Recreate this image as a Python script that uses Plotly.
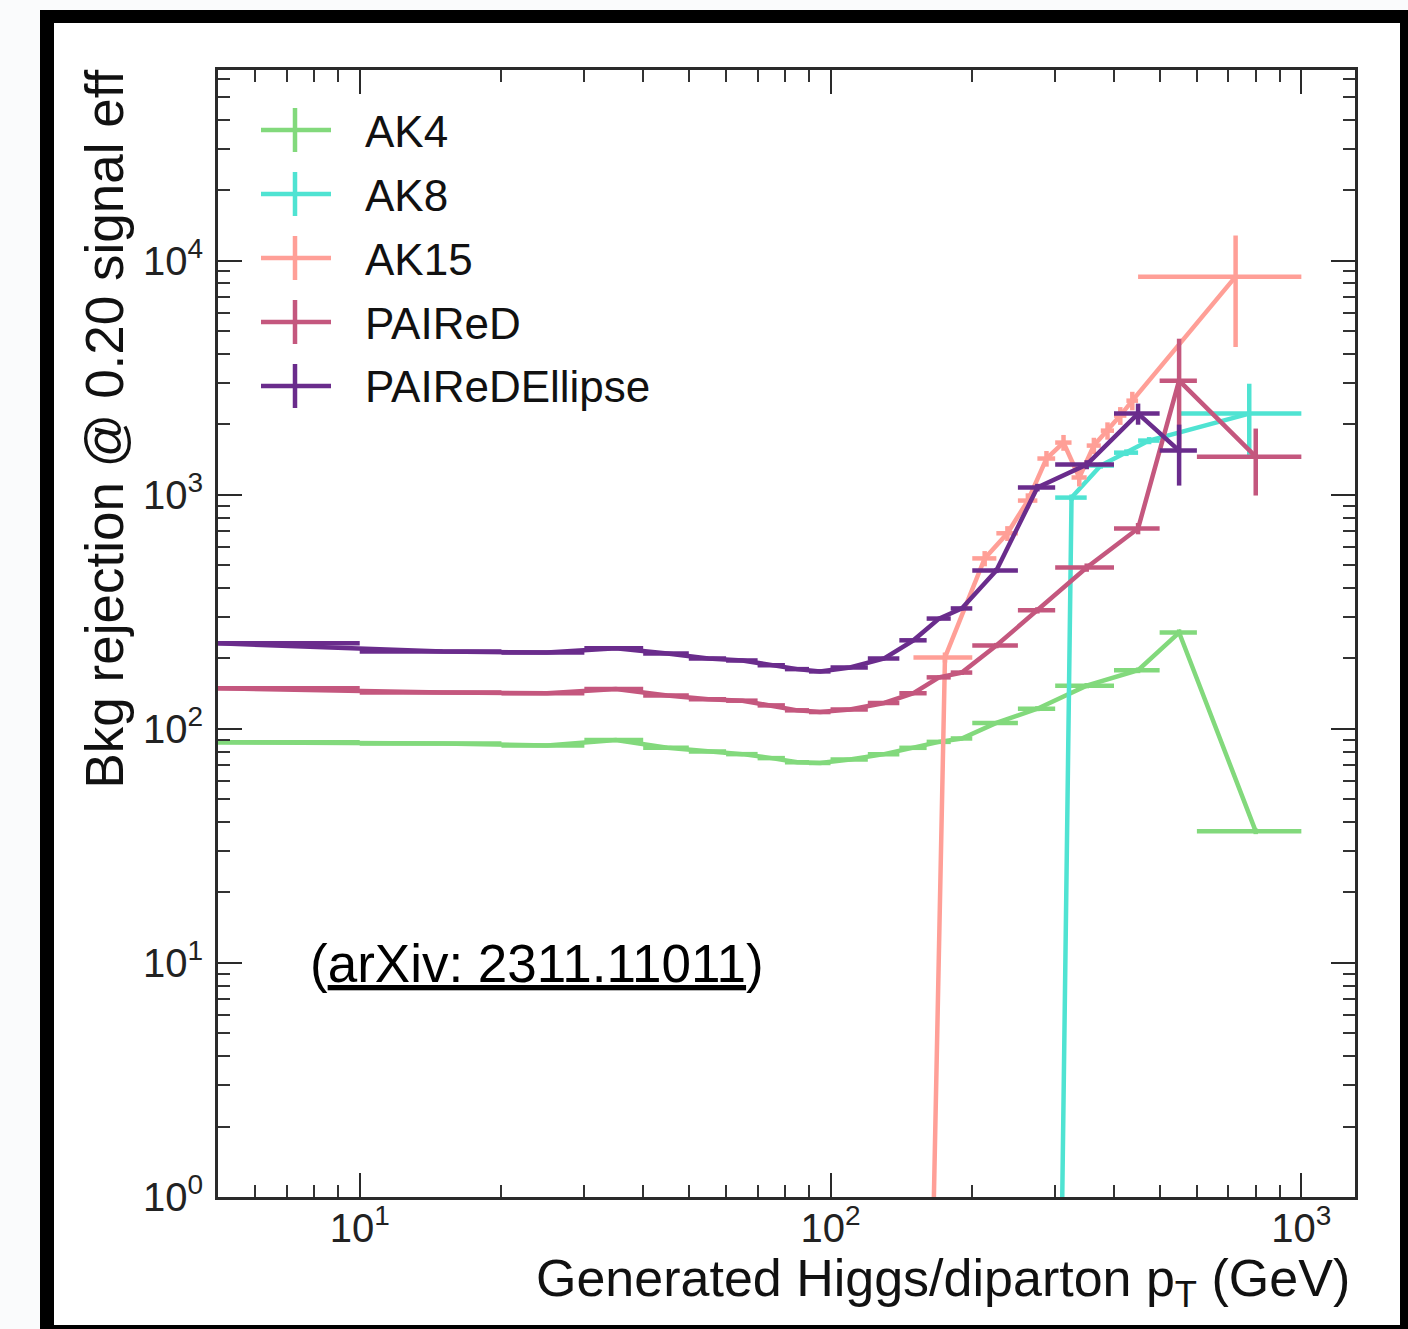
import math
import plotly.graph_objects as go

# ---------------- data ----------------
# bin edges (GeV) and values: Bkg rejection @ 0.20 signal eff
AK4_lo = [0, 10, 20, 30, 40, 50, 60, 70, 80, 90, 100, 120, 140, 160, 180, 200, 250, 300, 400, 500, 600]
AK4_hi = [10, 20, 30, 40, 50, 60, 70, 80, 90, 100, 120, 140, 160, 180, 200, 250, 300, 400, 500, 600, 1000]
AK4_y = [87.6, 86.6, 85, 89.6, 83, 80, 78, 75, 72, 71.5, 74, 78, 83, 88, 91, 106, 122, 153, 178, 258, 36.5]
AK4_err = [0, 0, 0, 0, 0, 0, 0, 0, 0, 0, 0, 0, 0, 0, 0, 2, 3, 4, 5, 8, 1]

AK8_lo = [250, 300, 350, 400, 450, 550]
AK8_hi = [300, 350, 400, 450, 500, 1000]
AK8_y = [1e-8, 973, 1334, 1514, 1705, 2223]
AK8_err = [0, 30, 40, 50, 60, 760]

AK15_lo = [100, 150, 200, 225, 250, 275, 300, 325, 350, 375, 400, 425, 450]
AK15_hi = [150, 200, 225, 250, 275, 300, 325, 350, 375, 400, 425, 450, 1000]
AK15_y = [1e-12, 202, 535, 685, 945, 1429, 1672, 1186, 1623, 1880, 2180, 2525, 8550]
AK15_err = [0, 10, 40, 50, 70, 110, 130, 100, 130, 160, 190, 230, 4270]

PAIReD_lo = [0, 10, 20, 30, 40, 50, 60, 70, 80, 90, 100, 120, 140, 160, 180, 200, 250, 300, 400, 500, 600]
PAIReD_hi = [10, 20, 30, 40, 50, 60, 70, 80, 90, 100, 120, 140, 160, 180, 200, 250, 300, 400, 500, 600, 1000]
PAIReD_y = [149, 143, 142, 148, 139, 134, 132, 126, 120, 118, 121, 129, 142, 166, 174, 227, 321, 489, 718, 3075, 1456]
PAIReD_err = [0, 0, 0, 0, 0, 0, 0, 0, 0, 0, 1, 1, 2, 3, 4, 6, 10, 20, 40, 1570, 463]

ELL_lo = [0, 10, 20, 30, 40, 50, 60, 70, 80, 90, 100, 120, 140, 160, 180, 200, 250, 300, 400, 500]
ELL_hi = [10, 20, 30, 40, 50, 60, 70, 80, 90, 100, 120, 140, 160, 180, 200, 250, 300, 400, 500, 600]
ELL_y = [232, 214, 212, 221, 210, 200, 196, 187, 180, 176, 183, 200, 239, 296, 327, 475, 1074, 1346, 2223, 1545]
ELL_err = [0, 0, 0, 0, 0, 0, 0, 0, 0, 0, 1, 2, 3, 5, 6, 12, 40, 60, 230, 450]

names = ["AK4", "AK8", "AK15", "PAIReD", "PAIReDEllipse"]
colors = ["#82d97c", "#4fe3d2", "#ff9f97", "#c4577e", "#6a2c8c"]

x_tick_vals = [10, 100, 1000]
x_tick_text = ["10<sup>1</sup>", "10<sup>2</sup>", "10<sup>3</sup>"]
y_tick_vals = [1, 10, 100, 1000, 10000]
y_tick_text = ["10<sup>0</sup>", "10<sup>1</sup>", "10<sup>2</sup>", "10<sup>3</sup>", "10<sup>4</sup>"]

x_title = "Generated Higgs/diparton p<sub>T</sub> (GeV)"
y_title = "Bkg rejection @ 0.20 signal eff"
note_text = '(<span style="text-decoration:underline">arXiv: 2311.11011</span>)'

# ---------------- layout geometry ----------------
W, H = 1408, 1329
L, R, T, B = 218, 1355, 70, 1197
FONT = "Liberation Sans, Arial, Helvetica, sans-serif"


def px(x):
    return (x - L) / (R - L)


def py(y):
    return (B - y) / (B - T)


series = [
    (AK4_lo, AK4_hi, AK4_y, AK4_err),
    (AK8_lo, AK8_hi, AK8_y, AK8_err),
    (AK15_lo, AK15_hi, AK15_y, AK15_err),
    (PAIReD_lo, PAIReD_hi, PAIReD_y, PAIReD_err),
    (ELL_lo, ELL_hi, ELL_y, ELL_err),
]

fig = go.Figure()
for (lo, hi, yv, ye), name, col in zip(series, names, colors):
    xc = [(a + b) / 2 for a, b in zip(lo, hi)]
    xe = [(b - a) / 2 for a, b in zip(lo, hi)]
    fig.add_trace(go.Scatter(
        x=xc, y=yv, name=name, mode="lines",
        line=dict(color=col, width=4.5),
        error_x=dict(type="data", array=xe, symmetric=True, width=0, thickness=4.5, color=col),
        error_y=dict(type="data", array=ye, symmetric=True, width=0, thickness=4.5, color=col),
        showlegend=False,
    ))

minor_x = [m * 10 ** d for d in range(0, 4) for m in range(2, 10)]
minor_y = [m * 10 ** d for d in range(0, 5) for m in range(2, 10)]

axis_common = dict(
    type="log", showgrid=False, zeroline=False,
    showline=True, linewidth=3, linecolor="#2a2a2a", mirror="allticks",
    ticks="inside", ticklen=24, tickwidth=2, tickcolor="#2a2a2a",
    tickmode="array",
    tickfont=dict(family=FONT, size=40, color="#222"),
    automargin=False,
)

fig.update_xaxes(
    **axis_common,
    range=[math.log10(5), math.log10(1300)],
    tickvals=x_tick_vals, ticktext=x_tick_text,
    ticklabelstandoff=-6,
    minor=dict(tickmode="array", tickvals=minor_x, ticks="inside", ticklen=12,
               tickwidth=2, tickcolor="#333", showgrid=False),
)
fig.update_yaxes(
    **axis_common,
    range=[0, 4.815],
    tickvals=y_tick_vals, ticktext=y_tick_text,
    ticklabelstandoff=4,
    minor=dict(tickmode="array", tickvals=minor_y, ticks="inside", ticklen=12,
               tickwidth=2, tickcolor="#333", showgrid=False),
)

shapes = []
# window-like black frame around the figure
shapes.append(dict(type="rect", xref="paper", yref="paper", layer="below",
                   x0=px(40), x1=px(1412), y0=py(1333), y1=py(10),
                   fillcolor="black", line=dict(width=0)))
shapes.append(dict(type="rect", xref="paper", yref="paper", layer="below",
                   x0=px(54), x1=px(1400), y0=py(1325), y1=py(23),
                   fillcolor="white", line=dict(width=0)))

annotations = []
# manual legend (cross symbols like the ROOT legend)
for i, (name, col) in enumerate(zip(names, colors)):
    yc = 130 + 64 * i
    shapes.append(dict(type="line", xref="paper", yref="paper",
                       x0=px(261), x1=px(331), y0=py(yc), y1=py(yc),
                       line=dict(color=col, width=4.5)))
    shapes.append(dict(type="line", xref="paper", yref="paper",
                       x0=px(295), x1=px(295), y0=py(yc - 22), y1=py(yc + 22),
                       line=dict(color=col, width=4.5)))
    annotations.append(dict(xref="paper", yref="paper", x=px(363), y=py(yc + 1),
                            xanchor="left", yanchor="middle", showarrow=False,
                            text=name, font=dict(family=FONT, size=44, color="#111")))

annotations.append(dict(xref="paper", yref="paper", x=px(1352), y=py(1282),
                        xanchor="right", yanchor="middle", showarrow=False,
                        text=x_title, font=dict(family=FONT, size=52, color="#111")))
annotations.append(dict(xref="paper", yref="paper", x=px(104), y=py(68),
                        xanchor="center", yanchor="top", showarrow=False, textangle=-90,
                        text=y_title, font=dict(family=FONT, size=53, color="#111")))
annotations.append(dict(xref="paper", yref="paper", x=px(537), y=py(963),
                        xanchor="center", yanchor="middle", showarrow=False,
                        text=note_text, font=dict(family=FONT, size=53, color="black")))

fig.update_layout(
    width=W, height=H, autosize=False,
    margin=dict(l=L, r=W - R, t=T, b=H - B, pad=0),
    paper_bgcolor="#fafbfc", plot_bgcolor="white",
    shapes=shapes, annotations=annotations,
    showlegend=False,
    font=dict(family=FONT),
)

fig.write_html("out.html")
